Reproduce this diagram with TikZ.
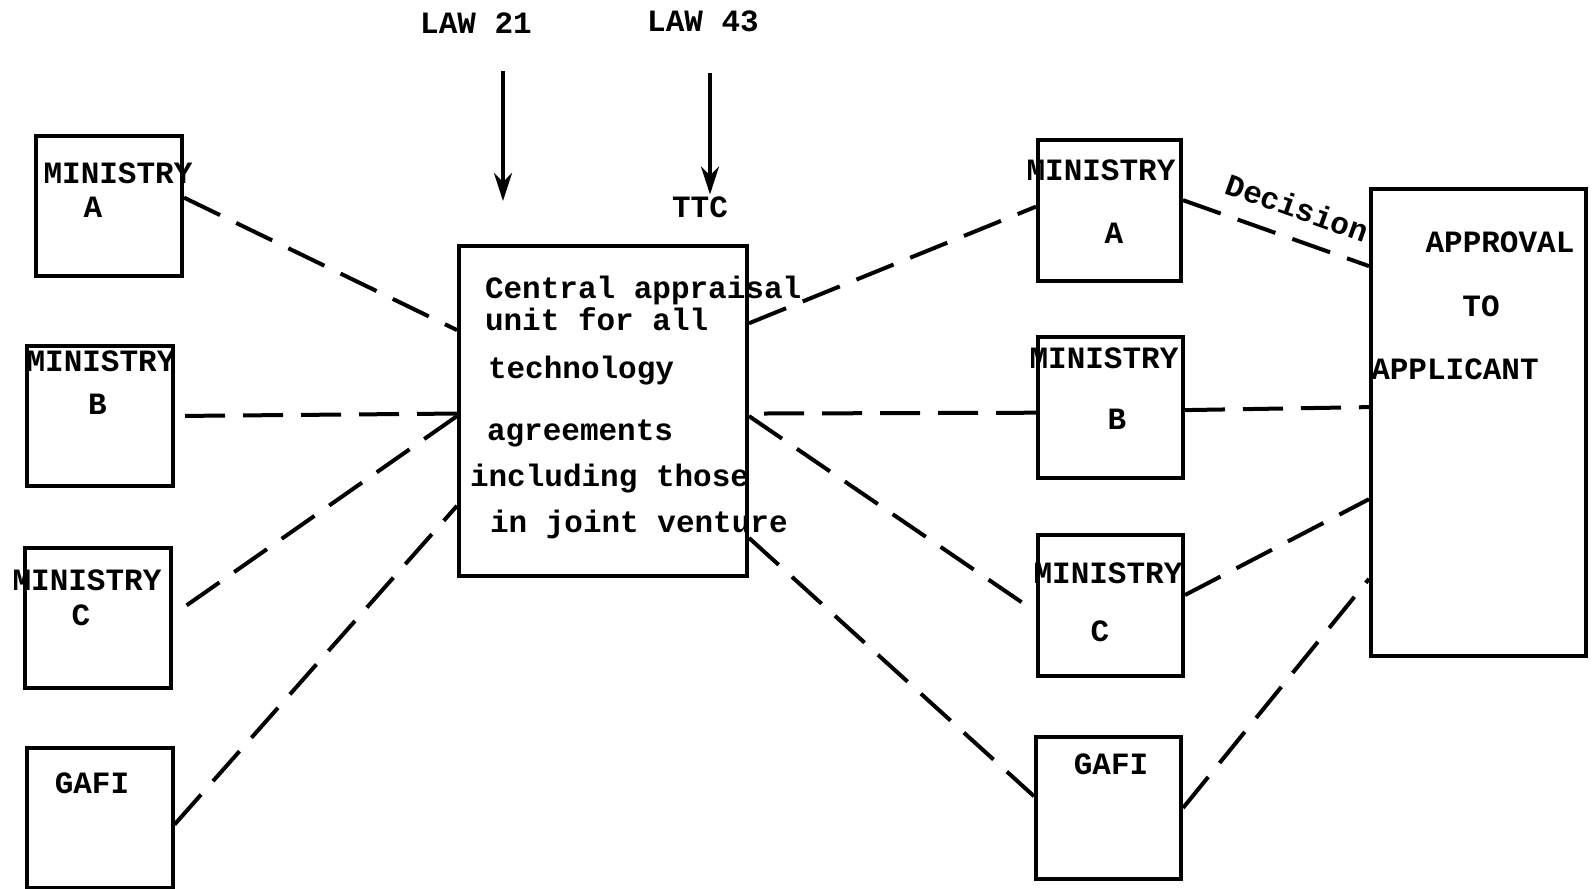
\documentclass[tikz,border=0pt]{standalone}
\usepackage{fontspec}
\setmonofont{Liberation Mono}
\usetikzlibrary{arrows.meta}
\begin{document}
\begin{tikzpicture}[x=0.5pt, y=-0.5pt, line width=2pt,
    every node/.style={font=\ttfamily\bfseries\fontsize{15.5}{18}\selectfont, inner sep=0pt},
    box/.style={draw, line width=2pt, minimum width=73pt, minimum height=70pt},
    link/.style={dash pattern=on 20pt off 9pt},
    law/.style={-{Stealth[length=14pt, width=9pt]}}]
    \useasboundingbox (0,0) rectangle (1592,889);
    % left column
    \node[box] (lminA) at (109,205.5) {};
    \node[box] (lminB) at (100,416) {};
    \node[box] (lminC) at (98,617.5) {};
    \node[box] (lgafi) at (99.5,818) {};
    \node (lminA name) at (118,173) {MINISTRY};
    \node (lminA letter) at (93,207) {A};
    \node (lminB name) at (101,361) {MINISTRY};
    \node (lminB letter) at (97.5,404) {B};
    \node (lminC name) at (87,580) {MINISTRY};
    \node (lminC letter) at (81,615) {C};
    \node (lgafi name) at (92,783) {GAFI};
    % central unit
    \node[box, minimum width=144pt, minimum height=165pt] (central) at (603,411) {};
    \node[anchor=base west] (line1) at (483,298) {Central appraisal};
    \node[anchor=base west] (line2) at (483,330) {unit for all};
    \node[anchor=base west] (line3) at (486,378) {technology};
    \node[anchor=base west] (line4) at (485,440) {agreements};
    \node[anchor=base west] (line5) at (468,486) {including those};
    \node[anchor=base west] (line6) at (488,532) {in joint venture};
    % laws
    \node (law21) at (476,23) {LAW 21};
    \node (law43) at (703,21) {LAW 43};
    \node (ttc) at (700,207) {TTC};
    \coordinate (law21 top) at (503,71);
    \coordinate (law21 tip) at (503,201);
    \coordinate (law43 top) at (710,73);
    \draw[law] (law21 top) -- (law21 tip);
    \draw[law] (law43 top) -- (law43 top |- ttc.north);
    % right column
    \node[box, minimum width=71.5pt, minimum height=70.5pt] (rminA) at (1109.5,210.5) {};
    \node[box, minimum width=72.5pt, minimum height=70.5pt] (rminB) at (1110.5,407.5) {};
    \node[box, minimum width=72.5pt, minimum height=70.5pt] (rminC) at (1110.5,605.5) {};
    \node[box, minimum width=72.5pt, minimum height=71pt] (rgafi) at (1108.5,808) {};
    \node (rminA name) at (1101,170) {MINISTRY};
    \node (rminA letter) at (1114,233) {A};
    \node (rminB name) at (1104,358) {MINISTRY};
    \node (rminB letter) at (1117,419) {B};
    \node (rminC name) at (1108,573) {MINISTRY};
    \node (rminC letter) at (1100,631) {C};
    \node (rgafi name) at (1111,764) {GAFI};
    \node[box, minimum width=107.5pt, minimum height=233.5pt] (approval) at (1478.5,422.5) {};
    \node (appr1) at (1500,242) {APPROVAL};
    \node (appr2) at (1481,306) {TO};
    \node (appr3) at (1455,369) {APPLICANT};
    % connectors
    \draw[link] (lminA.6) -- (central.151);
    \draw[link] (central.181) -- (lminB.east);
    \draw[link] (central.182) -- (lminC.2);
    \draw[link] (lgafi.-5) -- (central.213);
    \draw[link] (central.31) -- (rminA.177);
    \draw[link] (rminB.184) -- (central.-1);
    \draw[link] (central.-2) -- (rminC.185);
    \draw[link] (central.-41) -- (rgafi.171);
    \draw[link] (rminA.8) -- node[sloped, above=9pt, pos=0.56] (decision) {Decision} (approval.125);
    \draw[link] (rminB.-2) -- (approval.172);
    \draw[link] (rminC.8) -- (approval.215);
    \draw[link] (rgafi.east) -- (approval.235);
\end{tikzpicture}
\end{document}
